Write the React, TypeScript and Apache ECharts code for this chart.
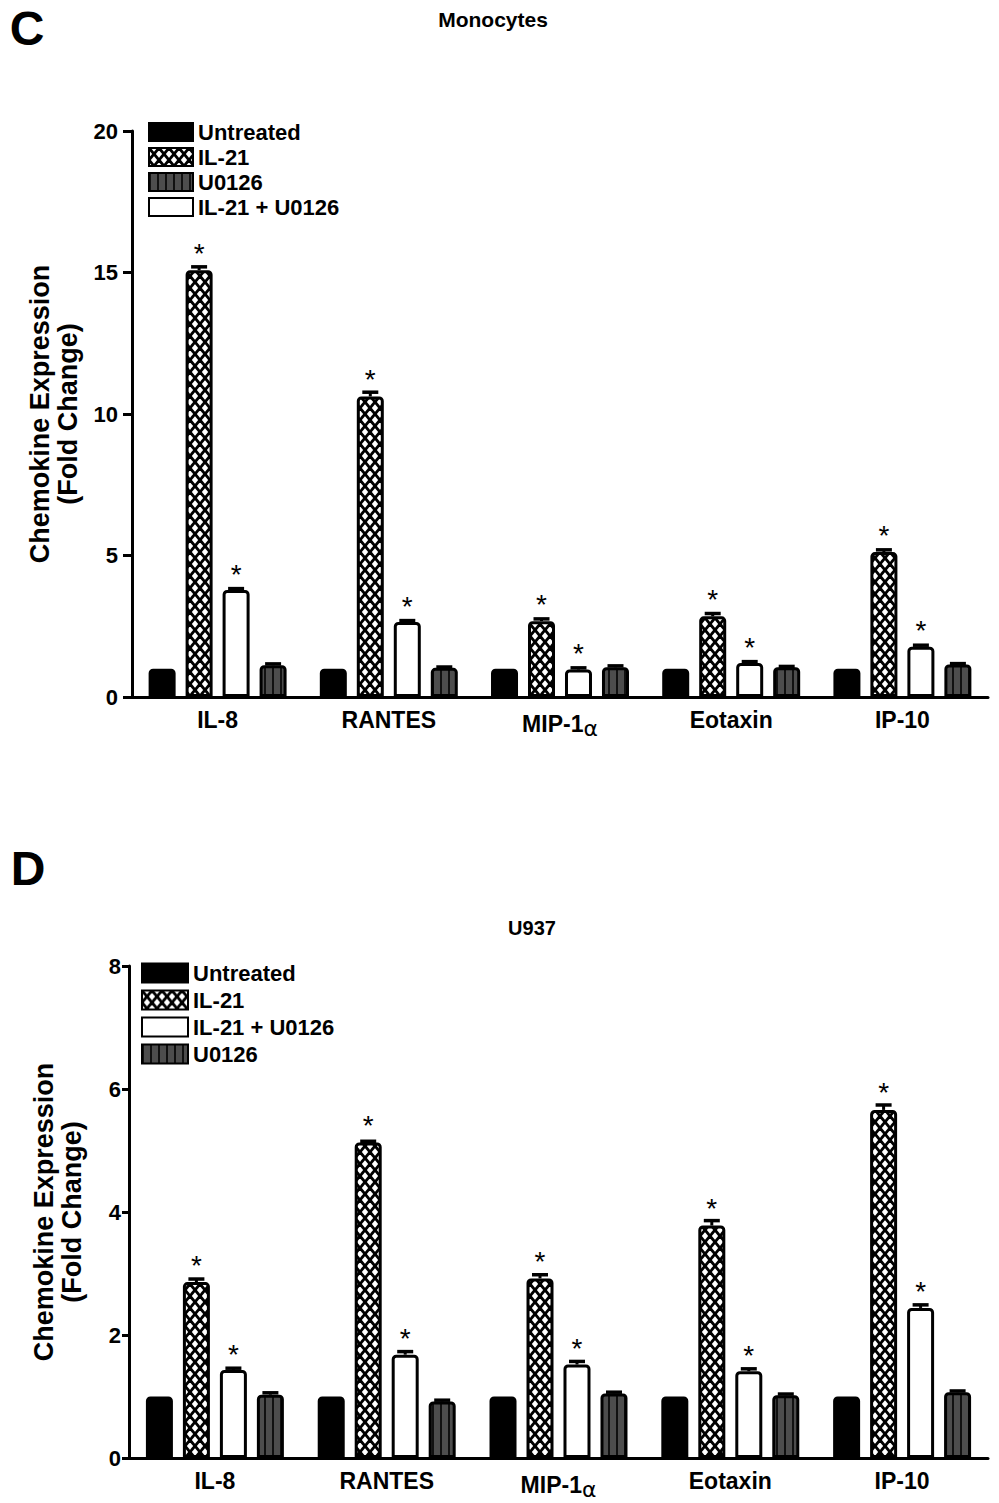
import React, { useEffect, useRef } from "react";
import * as echarts from "echarts";

const categories = ["IL-8", "RANTES", "MIP-1α", "Eotaxin", "IP-10"];
const legendTop = ["Untreated", "IL-21", "U0126", "IL-21 + U0126"];
const legendBottom = ["Untreated", "IL-21", "IL-21 + U0126", "U0126"];

// Panel C: Monocytes
const monoUntreated = [1.0, 1.0, 1.0, 1.0, 1.0];
const monoIL21 = [15.08, 10.62, 2.68, 2.85, 5.12];
const monoCombo = [3.78, 2.65, 0.97, 1.2, 1.78];
const monoU0126 = [1.12, 1.03, 1.05, 1.05, 1.15];
const monoIL21Err = [0.12, 0.15, 0.08, 0.1, 0.08];
const monoComboErr = [0.05, 0.05, 0.06, 0.05, 0.05];
const monoU0126Err = [0.05, 0.03, 0.05, 0.03, 0.03];

// Panel D: U937
const u937Untreated = [1.0, 1.0, 1.0, 1.0, 1.0];
const u937IL21 = [2.86, 5.13, 2.92, 3.78, 5.66];
const u937Combo = [1.43, 1.68, 1.52, 1.41, 2.44];
const u937U0126 = [1.03, 0.92, 1.05, 1.02, 1.07];
const u937IL21Err = [0.05, 0.02, 0.06, 0.08, 0.08];
const u937ComboErr = [0.03, 0.05, 0.05, 0.04, 0.05];
const u937U0126Err = [0.03, 0.02, 0.02, 0.02, 0.02];

const monoAxis = { min: 0, max: 20, interval: 5 };
const u937Axis = { min: 0, max: 8, interval: 2 };

const FONT = 'Arial, "Liberation Sans", sans-serif';

function crossPattern() {
  const w = 10, h = 12;
  const c = document.createElement("canvas");
  c.width = w; c.height = h;
  const g = c.getContext("2d")!;
  g.fillStyle = "#fff"; g.fillRect(0, 0, w, h);
  g.strokeStyle = "#000"; g.lineWidth = 2.8;
  for (const dx of [-w, 0, w]) {
    for (const dy of [-h, 0, h]) {
      g.beginPath(); g.moveTo(dx, dy); g.lineTo(dx + w, dy + h); g.stroke();
      g.beginPath(); g.moveTo(dx + w, dy); g.lineTo(dx, dy + h); g.stroke();
    }
  }
  return { image: c, repeat: "repeat", imageWidth: w, imageHeight: h };
}

function stripePattern() {
  const w = 8, h = 8;
  const c = document.createElement("canvas");
  c.width = w; c.height = h;
  const g = c.getContext("2d")!;
  g.fillStyle = "#4d4d4d"; g.fillRect(0, 0, w, h);
  g.fillStyle = "#111"; g.fillRect(0, 0, 2, h);
  return { image: c, repeat: "repeat", imageWidth: w, imageHeight: h };
}

export default function App() {
  const ref = useRef<HTMLDivElement>(null);
  useEffect(() => {
    document.body.style.margin = "0";
    const chart = echarts.init(ref.current!, null, { renderer: "svg" });
    const cross = crossPattern();
    const stripe = stripePattern();
    const BAR_W = 27;
    const STEP = 37;

    const baseItem = { borderColor: "#000", borderWidth: 3, borderRadius: [3, 3, 0, 0] };
    const starLabel = (dist: number) => ({
      show: true, position: "top", distance: dist, formatter: "*",
      fontSize: 28, color: "#000", fontFamily: FONT,
    });

    const bars = (grid: number, u: number[], il: number[], combo: number[], u0: number[]) => [
      {
        type: "bar", name: "Untreated", xAxisIndex: grid, yAxisIndex: grid, data: u,
        barWidth: BAR_W, barGap: "37%", itemStyle: { ...baseItem, color: "#000" },
      },
      {
        type: "bar", name: "IL-21", xAxisIndex: grid, yAxisIndex: grid, data: il,
        barWidth: BAR_W, barGap: "37%", itemStyle: { ...baseItem, color: cross },
        label: starLabel(3),
      },
      {
        type: "bar", name: "IL-21 + U0126", xAxisIndex: grid, yAxisIndex: grid, data: combo,
        barWidth: BAR_W, barGap: "37%", itemStyle: { ...baseItem, color: "#fff" },
        label: starLabel(2),
      },
      {
        type: "bar", name: "U0126", xAxisIndex: grid, yAxisIndex: grid, data: u0,
        barWidth: BAR_W, barGap: "37%", itemStyle: { ...baseItem, color: stripe },
      },
    ];

    const errSeries = (grid: number, idx: number, vals: number[], errs: number[]) => ({
      type: "custom", xAxisIndex: grid, yAxisIndex: grid, silent: true, z: 3,
      data: vals.map((v, i) => [i, v, v + errs[i]]),
      renderItem: (params: any, api: any) => {
        const i = api.value(0);
        const p0 = api.coord([i, api.value(1)]);
        const p1 = api.coord([i, api.value(2)]);
        const x = p0[0] + (idx - 1.5) * STEP;
        return {
          type: "group",
          children: [
            { type: "line", shape: { x1: x, y1: p0[1], x2: x, y2: p1[1] }, style: { stroke: "#000", lineWidth: 3 } },
            { type: "line", shape: { x1: x - 8, y1: p1[1], x2: x + 8, y2: p1[1] }, style: { stroke: "#000", lineWidth: 3.5 } },
          ],
        };
      },
    });

    const xAxis = (grid: number) => ({
      type: "category", gridIndex: grid, data: categories,
      axisLine: { lineStyle: { color: "#000", width: 3 } },
      axisTick: { alignWithLabel: true, length: 8, lineStyle: { color: "#000", width: 3 } },
      axisLabel: {
        margin: 11, fontSize: 23, fontWeight: "bold", color: "#000", fontFamily: FONT,
        formatter: (v: string) => v.replace("α", "{a|α}"),
        rich: { a: { fontSize: 22, fontWeight: "normal", color: "#000", fontFamily: "DejaVu Sans", padding: [9, 0, 0, 0] } },
      },
    });

    const yAxis = (grid: number, ax: any, gap: number, tickLen: number, margin: number) => ({
      type: "value", gridIndex: grid, ...ax,
      splitLine: { show: false },
      axisLine: { show: true, lineStyle: { color: "#000", width: 3 } },
      axisTick: { show: true, length: tickLen, lineStyle: { color: "#000", width: 3 } },
      axisLabel: { margin, fontSize: 22, fontWeight: "bold", color: "#000", fontFamily: FONT },
      name: "Chemokine Expression\n(Fold Change)", nameLocation: "middle", nameRotate: 90, nameGap: gap,
      nameTextStyle: { fontSize: 27, fontWeight: "bold", color: "#000", fontFamily: FONT, lineHeight: 28 },
    });

    const legendStyle = { fontSize: 22, fontWeight: "bold", color: "#000", fontFamily: FONT, lineHeight: 22 };

    chart.setOption({
      animation: false,
      backgroundColor: "#fff",
      grid: [
        { left: 132, top: 131, width: 856, height: 566, outerBoundsMode: "none", containLabel: false },
        { left: 129, top: 966, width: 859, height: 492, outerBoundsMode: "none", containLabel: false },
      ],
      xAxis: [xAxis(0), xAxis(1)],
      yAxis: [yAxis(0, monoAxis, 50, 9, 14), yAxis(1, u937Axis, 43, 7, 8)],
      legend: [
        {
          data: legendTop, orient: "vertical", left: 148, top: 121, itemWidth: 44, itemHeight: 18,
          itemGap: 3, padding: 0, textStyle: legendStyle, selectedMode: false, icon: "rect",
        },
        {
          data: legendBottom, orient: "vertical", left: 141, top: 962, itemWidth: 46, itemHeight: 19,
          itemGap: 5, padding: 0, textStyle: legendStyle, selectedMode: false, icon: "rect",
        },
      ],
      graphic: [
        { type: "text", x: 27, y: 28, style: { text: "C", font: `bold 48px ${FONT}`, fill: "#000", textAlign: "center", textVerticalAlign: "middle" } },
        { type: "text", x: 493, y: 19, style: { text: "Monocytes", font: `bold 21px ${FONT}`, fill: "#000", textAlign: "center", textVerticalAlign: "middle" } },
        { type: "text", x: 28, y: 868, style: { text: "D", font: `bold 48px ${FONT}`, fill: "#000", textAlign: "center", textVerticalAlign: "middle" } },
        { type: "text", x: 532, y: 928, style: { text: "U937", font: `bold 20px ${FONT}`, fill: "#000", textAlign: "center", textVerticalAlign: "middle" } },
      ],
      series: [
        ...bars(0, monoUntreated, monoIL21, monoCombo, monoU0126),
        errSeries(0, 1, monoIL21, monoIL21Err),
        errSeries(0, 2, monoCombo, monoComboErr),
        errSeries(0, 3, monoU0126, monoU0126Err),
        ...bars(1, u937Untreated, u937IL21, u937Combo, u937U0126),
        errSeries(1, 1, u937IL21, u937IL21Err),
        errSeries(1, 2, u937Combo, u937ComboErr),
        errSeries(1, 3, u937U0126, u937U0126Err),
      ],
    });
    return () => chart.dispose();
  }, []);
  return <div ref={ref} style={{ width: 999, height: 1503 }} />;
}
